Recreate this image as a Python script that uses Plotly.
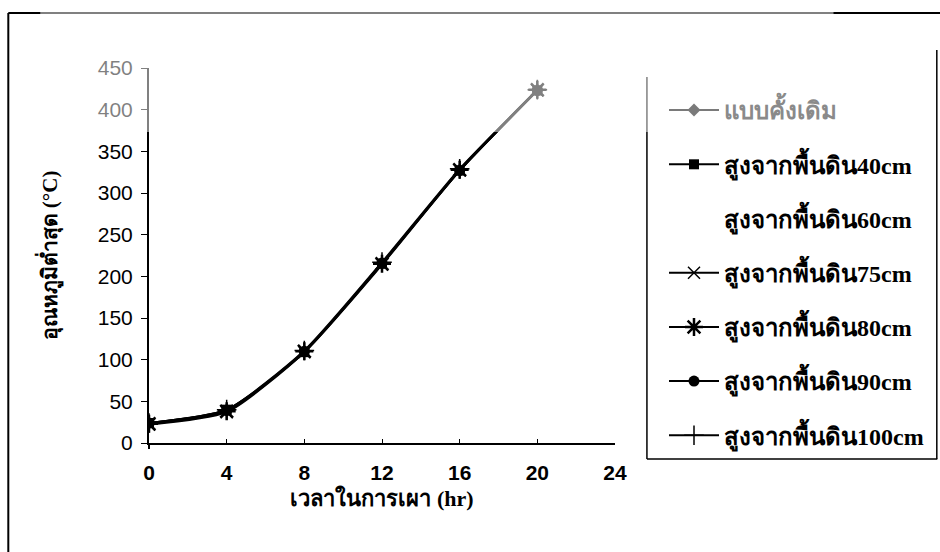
import plotly.graph_objects as go

# Firing time (hours) and minimum temperature (°C) for each kiln configuration
hours = [0, 4, 8, 12, 16, 20]
series_names = [
    "แบบคั้งเดิม",
    "สูงจากพื้นดิน40cm",
    "สูงจากพื้นดิน60cm",
    "สูงจากพื้นดิน75cm",
    "สูงจากพื้นดิน80cm",
    "สูงจากพื้นดิน90cm",
    "สูงจากพื้นดิน100cm",
]
temp_traditional = [24, 40, 110, 216, 328, 424]
temp_40cm = [24, 40, 109, 215, 327, 423]
temp_60cm = [23, 39, 110, 216, 328, 424]
temp_75cm = [22, 37, 109, 214, 327, 423]
temp_80cm = [23, 38, 110, 215, 328, 424]
temp_90cm = [24, 39, 110, 216, 327, 423]
temp_100cm = [24, 40, 111, 217, 329, 424]

series_values = [temp_traditional, temp_40cm, temp_60cm, temp_75cm,
                 temp_80cm, temp_90cm, temp_100cm]

x_ticks = [0, 4, 8, 12, 16, 20, 24]
y_ticks = [0, 50, 100, 150, 200, 250, 300, 350, 400, 450]

# marker style per series: (symbol, size, colour, marker line width, show line)
styles = [
    ("diamond", 10, "#7a7a7a", 0, True),
    ("square", 10, "black", 0, True),
    ("circle", 1, "rgba(0,0,0,0)", 0, False),
    ("x-thin-open", 12, "black", 1.5, True),
    ("asterisk-open", 15, "black", 2.5, True),
    ("circle", 11, "black", 0, True),
    ("cross-thin-open", 14, "black", 1.5, True),
]

W, H = 940, 552
L, R, T, B = 149, 616, 68, 443  # plot-area pixel box


def px_x(p):
    return (p - L) / (R - L)


def px_y(p):
    return (B - p) / (B - T)


fig = go.Figure()
for i, (name, vals) in enumerate(zip(series_names, series_values)):
    sym, size, col, mlw, show_line = styles[i]
    label = name
    if i == 0:
        label = '<span style="color:#8a8a8a">' + name + "</span>"
    fig.add_trace(go.Scatter(
        x=hours, y=vals, name=label,
        mode="lines+markers" if show_line else "lines",
        line=dict(color=col, width=2 if show_line else 0, shape="spline", smoothing=0.6),
        marker=dict(symbol=sym, size=size, color=col,
                    line=dict(color=col, width=mlw)),
        legendgroup=f"g{i}",
    ))

thai_font = "Liberation Serif, Noto Sans, serif"

frame = dict(color="black", width=2)
box = dict(color="black", width=1.5)

fig.update_layout(
    width=W, height=H,
    margin=dict(l=L, r=W - R, t=T, b=H - B, pad=0),
    paper_bgcolor="white", plot_bgcolor="white",
    showlegend=True,
    legend=dict(
        x=px_x(664), y=px_y(88), xanchor="left", yanchor="top",
        font=dict(family=thai_font, size=24, color="black", weight="bold"),
        bgcolor="rgba(0,0,0,0)", borderwidth=0,
        tracegroupgap=20, itemwidth=50,
    ),
    xaxis=dict(
        range=[0, 24], tickvals=x_ticks, ticks="inside", ticklen=4,
        tickcolor="black", showline=True, linecolor="black", linewidth=1.5,
        showgrid=False, zeroline=False, ticklabelstandoff=10,
        tickfont=dict(family="Liberation Sans", size=21, color="black", weight="bold"),
        title=dict(text="เวลาในการเผา (hr)", standoff=8,
                   font=dict(family=thai_font, size=22, color="black", weight="bold")),
    ),
    yaxis=dict(
        range=[0, 450], tickvals=y_ticks, ticks="outside", ticklen=6,
        tickcolor="black", showline=True, linecolor="black", linewidth=2,
        showgrid=False, zeroline=False, ticklabelstandoff=4,
        tickfont=dict(family="Liberation Sans", size=21, color="black"),
        title=dict(text="อุณหภูมิต่ำสุด (°C)", standoff=34,
                   font=dict(family=thai_font, size=21, color="black", weight="bold")),
    ),
    shapes=[
        # outer chart frame: left and top edges
        dict(type="line", xref="paper", yref="paper",
             x0=px_x(8), x1=px_x(8), y0=px_y(13), y1=px_y(580),
             line=frame, layer="above"),
        dict(type="line", xref="paper", yref="paper",
             x0=px_x(8), x1=px_x(945), y0=px_y(13), y1=px_y(13),
             line=frame, layer="above"),
        # legend box: left, right and bottom edges
        dict(type="line", xref="paper", yref="paper",
             x0=px_x(648), x1=px_x(648), y0=px_y(77), y1=px_y(459),
             line=box, layer="above"),
        dict(type="line", xref="paper", yref="paper",
             x0=px_x(938.5), x1=px_x(938.5), y0=px_y(50), y1=px_y(459),
             line=box, layer="above"),
        dict(type="line", xref="paper", yref="paper",
             x0=px_x(648), x1=px_x(939), y0=px_y(459), y1=px_y(459),
             line=box, layer="above"),
        # y axis runs a few pixels below the x axis
        dict(type="line", xref="paper", yref="paper",
             x0=0, x1=0, y0=px_y(443), y1=px_y(449),
             line=dict(color="black", width=2), layer="above"),
        # pale band across the top of the page
        dict(type="rect", xref="paper", yref="paper",
             x0=px_x(40), x1=px_x(835), y0=px_y(132), y1=px_y(0),
             line=dict(width=0), fillcolor="rgba(255,255,255,0.5)",
             layer="above"),
    ],
)

fig.write_html("out.html")
